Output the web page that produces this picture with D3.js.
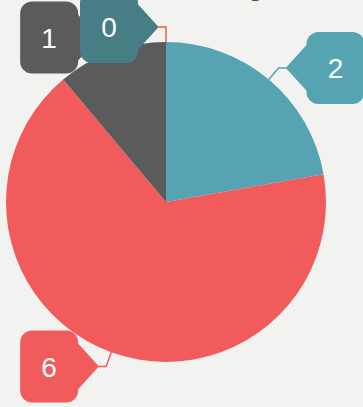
<!DOCTYPE html>
<html>
<head>
<meta charset="utf-8">
<script src="https://cdn.jsdelivr.net/npm/d3@7/dist/d3.min.js"></script>
<style>
  html, body { margin: 0; padding: 0; background: #f2f2f0; }
  svg { display: block; }
</style>
</head>
<body>
<svg id="chart" width="363" height="407"></svg>
<script>
// Slice data, drawn clockwise from 12 o'clock
const categories = ["Open", "Closed", "Pending", "Other"];
const values = [2, 6, 1, 0];
const sliceColors = ["#56a4b1", "#f25b5c", "#5c5b5b", "#477d85"];
const leaderColors = ["#56a4b1", "#f25b5c", "#5c5b5b", "#e8623f"];
const titleText = "Deal Stage Count";

const W = 363, H = 407;
const cx = 166, cy = 202, R = 160;

const svg = d3.select("#chart");

// Title (sits mostly above the top edge)
svg.append("text")
  .attr("x", 140).attr("y", -5)
  .attr("font-family", "Liberation Sans, Arial, sans-serif")
  .attr("font-size", 28)
  .attr("fill", "#4a4a4a")
  .text(titleText);

const pie = d3.pie().sort(null).value(d => d.value);
const arcs = pie(categories.map((c, i) => ({ name: c, value: values[i], i })));
const arc = d3.arc().innerRadius(0).outerRadius(R);

const g = svg.append("g").attr("transform", `translate(${cx},${cy})`);
g.selectAll("path.slice")
  .data(arcs)
  .join("path")
  .attr("class", "slice")
  .attr("d", arc)
  .attr("fill", d => sliceColors[d.data.i]);

// Callout bubbles with elbow leader lines
const elbowR = R + 15, hLen = 10, ptr = 18, bw = 58, bh = 72, br = 12;
const lbl = svg.append("g");

arcs.forEach(d => {
  const mid = (d.startAngle + d.endAngle) / 2;
  const sx = cx + R * Math.sin(mid), sy = cy - R * Math.cos(mid);
  const ex = cx + elbowR * Math.sin(mid), ey = cy - elbowR * Math.cos(mid);
  const side = (Math.sin(mid) > 0.001) ? 1 : -1;
  const tipX = ex + side * hLen;
  const color = sliceColors[d.data.i];

  lbl.append("polyline")
    .attr("points", `${sx},${sy} ${ex},${ey} ${tipX},${ey}`)
    .attr("fill", "none")
    .attr("stroke", leaderColors[d.data.i])
    .attr("stroke-width", 1.5);

  const bodyNear = tipX + side * ptr;
  const x0 = side > 0 ? bodyNear : bodyNear - bw;
  const y0 = ey - bh / 2;

  const bubble = lbl.append("g");
  bubble.append("rect")
    .attr("x", x0).attr("y", y0)
    .attr("width", bw).attr("height", bh)
    .attr("rx", br).attr("ry", br)
    .attr("fill", color);
  bubble.append("path")
    .attr("d", d3.line().curve(d3.curveLinearClosed)([
      [bodyNear + side * 2, ey - 22],
      [tipX, ey],
      [bodyNear + side * 2, ey + 22]
    ]))
    .attr("fill", color)
    .attr("stroke", color)
    .attr("stroke-linejoin", "round")
    .attr("stroke-width", 4);
  bubble.append("text")
    .attr("x", x0 + bw / 2).attr("y", ey)
    .attr("dy", "0.36em")
    .attr("text-anchor", "middle")
    .attr("font-family", "Liberation Sans, Arial, sans-serif")
    .attr("font-size", 28)
    .attr("fill", "#ffffff")
    .text(d.data.value);
});
</script>
</body>
</html>
